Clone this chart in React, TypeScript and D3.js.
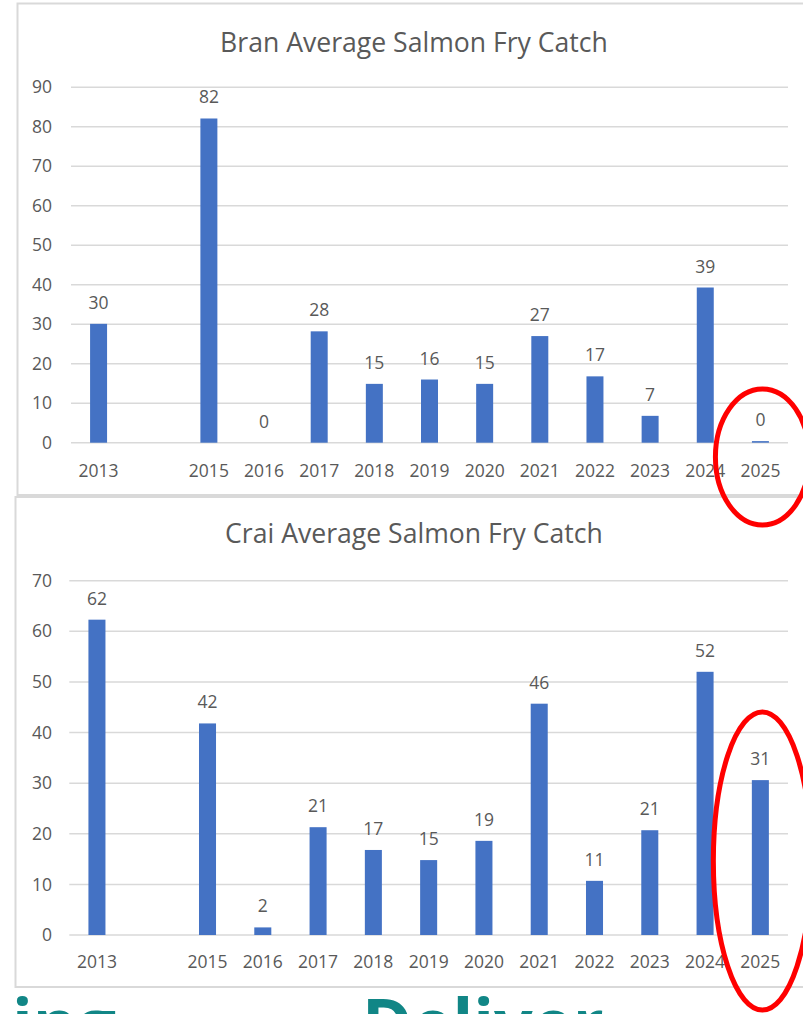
import React from "react";
import * as d3 from "d3";

const years = ["2013", "2014", "2015", "2016", "2017", "2018", "2019", "2020", "2021", "2022", "2023", "2024", "2025"];
const yearLabels = ["2013", "", "2015", "2016", "2017", "2018", "2019", "2020", "2021", "2022", "2023", "2024", "2025"];
const branValues: (number | null)[] = [30.1, null, 82.1, 0, 28.2, 14.9, 16.0, 14.9, 27.0, 16.8, 6.8, 39.3, 0.4];
const craiValues: (number | null)[] = [62.3, null, 41.8, 1.5, 21.3, 16.8, 14.8, 18.6, 45.7, 10.7, 20.7, 52.0, 30.6];
const branTicks = [0, 10, 20, 30, 40, 50, 60, 70, 80, 90];
const craiTicks = [0, 10, 20, 30, 40, 50, 60, 70];

const FONT = "'Open Sans', 'Segoe UI', sans-serif";
const TEXT = "#595959";
const GRID = "#d9d9d9";
const BAR = "#4472c4";

type ChartProps = {
  title: string;
  values: (number | null)[];
  ticks: number[];
  x0: number;
  x1: number;
  yBottom: number;
  yTop: number;
  titleY: number;
  xLabelY: number;
  ellipse: { cy: number; rx: number; ry: number };
};

function BarChart({ title, values, ticks, x0, x1, yBottom, yTop, titleY, xLabelY, ellipse }: ChartProps) {
  const x = d3.scaleBand<string>().domain(years).range([x0, x1]).paddingInner(0.692).paddingOuter(0.346);
  const y = d3.scaleLinear().domain([0, ticks[ticks.length - 1]]).range([yBottom, yTop]);
  const bw = x.bandwidth();
  const lastX = (x("2025") ?? 0) + bw / 2;
  return (
    <g>
      <text x={414} y={titleY} textAnchor="middle" fontSize={26.6} fill={TEXT} fontFamily={FONT}>
        {title}
      </text>
      {ticks.map((t) => (
        <g key={t}>
          <line x1={x0} x2={x1} y1={y(t)} y2={y(t)} stroke={GRID} strokeWidth={1.5} />
          <text x={52} y={y(t)} dy="0.35em" textAnchor="end" fontSize={17.5} fill={TEXT} fontFamily={FONT}>
            {t}
          </text>
        </g>
      ))}
      {values.map((v, i) =>
        v === null ? null : (
          <g key={years[i]}>
            <rect x={x(years[i])} y={y(v)} width={bw} height={y(0) - y(v)} fill={BAR} />
            <text
              x={(x(years[i]) ?? 0) + bw / 2}
              y={y(v) - 15}
              textAnchor="middle"
              fontSize={17.5}
              fill={TEXT}
              fontFamily={FONT}
            >
              {Math.round(v)}
            </text>
          </g>
        )
      )}
      {yearLabels.map((l, i) => (
        <text
          key={years[i]}
          x={(x(years[i]) ?? 0) + bw / 2}
          y={xLabelY}
          textAnchor="middle"
          fontSize={17.5}
          fill={TEXT}
          fontFamily={FONT}
        >
          {l}
        </text>
      ))}
      <ellipse
        cx={lastX + 2}
        cy={ellipse.cy}
        rx={ellipse.rx}
        ry={ellipse.ry}
        fill="none"
        stroke="#ff0000"
        strokeWidth={5}
      />
    </g>
  );
}

export default function App() {
  return (
    <svg
      width={803}
      height={1014}
      style={{ position: "absolute", left: 0, top: 0, background: "#ffffff" }}
    >
      <rect x={0} y={0} width={803} height={1014} fill="#ffffff" />
      <path d="M803,3.5 H17.5 V495 H803" fill="none" stroke={GRID} strokeWidth={2} />
      <path d="M803,497 H15.5 V987 H803" fill="none" stroke={GRID} strokeWidth={2} />
      <BarChart
        title="Bran Average Salmon Fry Catch"
        values={branValues}
        ticks={branTicks}
        x0={71}
        x1={788}
        yBottom={442.7}
        yTop={87.3}
        titleY={51.5}
        xLabelY={476.5}
        ellipse={{ cy: 457, rx: 47, ry: 68 }}
      />
      <BarChart
        title="Crai Average Salmon Fry Catch"
        values={craiValues}
        ticks={craiTicks}
        x0={69.3}
        x1={788}
        yBottom={935}
        yTop={580.7}
        titleY={543}
        xLabelY={968}
        ellipse={{ cy: 861, rx: 49, ry: 149 }}
      />
      <text x={12} y={1048} fontSize={68} fontWeight={700} fill="#118686" fontFamily={FONT}>
        ing
      </text>
      <text x={362} y={1048} fontSize={68} fontWeight={700} fill="#118686" fontFamily={FONT}>
        Deliver
      </text>
    </svg>
  );
}
